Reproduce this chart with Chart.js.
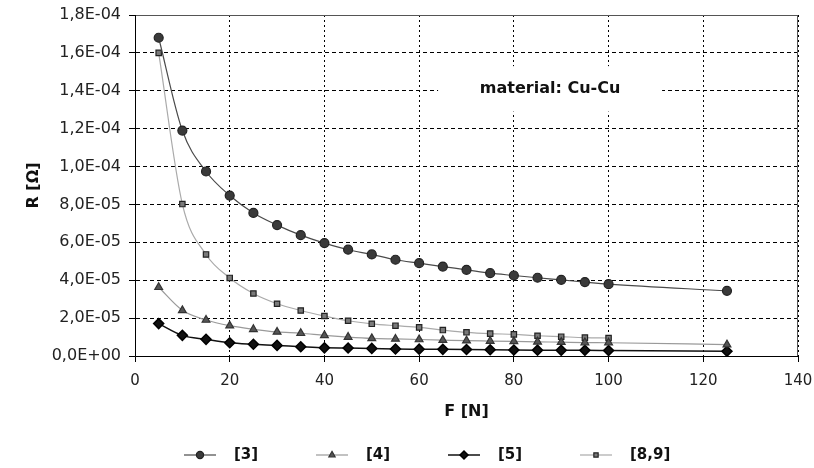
<!DOCTYPE html>
<html>
<head>
<meta charset="utf-8">
<script src="https://cdn.jsdelivr.net/npm/chart.js@4/dist/chart.umd.min.js"></script>
<style>
  html, body { margin: 0; padding: 0; background: #fff; }
  #wrap { width: 814px; height: 468px; }
</style>
</head>
<body>
<div id="wrap"><canvas id="chartId" width="814" height="468"></canvas></div>
<script>
// forces F [N]
const forces = [5, 10, 15, 20, 25, 30, 35, 40, 45, 50, 55, 60, 65, 70, 75, 80, 85, 90, 95, 100, 125];

// resistance R [Ohm]
const ref3 = [16.8e-5, 11.9e-5, 9.74e-5, 8.47e-5, 7.55e-5, 6.91e-5, 6.38e-5, 5.96e-5, 5.61e-5, 5.36e-5,
              5.08e-5, 4.90e-5, 4.72e-5, 4.55e-5, 4.37e-5, 4.25e-5, 4.13e-5, 4.02e-5, 3.90e-5, 3.79e-5, 3.44e-5];
const ref4 = [3.63e-5, 2.41e-5, 1.90e-5, 1.60e-5, 1.41e-5, 1.27e-5, 1.20e-5, 1.09e-5, 1.00e-5, 0.93e-5,
              0.90e-5, 0.87e-5, 0.84e-5, 0.81e-5, 0.79e-5, 0.77e-5, 0.75e-5, 0.73e-5, 0.71e-5, 0.70e-5, 0.60e-5];
const ref5 = [1.71e-5, 1.09e-5, 0.88e-5, 0.70e-5, 0.62e-5, 0.56e-5, 0.49e-5, 0.43e-5, 0.42e-5, 0.40e-5,
              0.37e-5, 0.36e-5, 0.35e-5, 0.34e-5, 0.33e-5, 0.32e-5, 0.31e-5, 0.30e-5, 0.30e-5, 0.29e-5, 0.25e-5];
const ref89 = [16.0e-5, 8.02e-5, 5.36e-5, 4.12e-5, 3.30e-5, 2.76e-5, 2.40e-5, 2.11e-5, 1.86e-5, 1.70e-5,
               1.60e-5, 1.51e-5, 1.37e-5, 1.25e-5, 1.18e-5, 1.14e-5, 1.07e-5, 1.02e-5, 0.97e-5, 0.95e-5];

const seriesNames = ['[3]', '[4]', '[5]', '[8,9]'];
const note = 'material: Cu-Cu';

const FONT = "'DejaVu Sans', 'Liberation Sans', Arial, sans-serif";

function pts(vals) {
    return vals.map((v, i) => ({ x: forces[i], y: v }));
}

// 1,8E-04 style labels
function sciLabel(v) {
    if (Math.abs(v) < 1e-12) return '0,0E+00';
    let e = Math.floor(Math.log10(Math.abs(v)) + 1e-9);
    let m = Math.round(v / Math.pow(10, e) * 10) / 10;
    if (m >= 10) { m /= 10; e++; }
    return m.toFixed(1).replace('.', ',') + 'E' + (e < 0 ? '-' : '+') + String(Math.abs(e)).padStart(2, '0');
}

const ctx = document.getElementById('chartId').getContext('2d');

const data = {
    datasets: [
        { label: seriesNames[0], data: pts(ref3), borderColor: '#4a4a4a', borderWidth: 1.2,
          pointStyle: 'circle', pointRadius: 4.5, backgroundColor: '#3a3a3a', pointBorderColor: '#222' },
        { label: seriesNames[1], data: pts(ref4), borderColor: '#9a9a9a', borderWidth: 1.2,
          pointStyle: 'triangle', pointRadius: 4.5, backgroundColor: '#555', pointBorderColor: '#333' },
        { label: seriesNames[2], data: pts(ref5), borderColor: '#111', borderWidth: 1.5,
          pointStyle: 'rectRot', pointRadius: 5, backgroundColor: '#111', pointBorderColor: '#000' },
        { label: seriesNames[3], data: pts(ref89), borderColor: '#aaaaaa', borderWidth: 1.2,
          pointStyle: 'rect', pointRadius: 3.8, backgroundColor: '#7a7a7a', pointBorderColor: '#222' }
    ]
};

// border round the plot, white note box, and the legend at the bottom
const extras = {
    id: 'extras',
    beforeDatasetsDraw(chart) {
        const c = chart.ctx, x = chart.scales.x, y = chart.scales.y;
        const x0 = x.getPixelForValue(64), x1 = x.getPixelForValue(111.3);
        const y0 = y.getPixelForValue(15.3e-5), y1 = y.getPixelForValue(12.9e-5);
        c.save();
        c.fillStyle = '#fff';
        c.fillRect(x0, y0, x1 - x0, y1 - y0);
        c.fillStyle = '#111';
        c.font = 'bold 16px ' + FONT;
        c.textAlign = 'center';
        c.textBaseline = 'middle';
        c.fillText(note, (x0 + x1) / 2, (y0 + y1) / 2);
        const a = chart.chartArea;
        c.strokeStyle = '#555';
        c.lineWidth = 1;
        c.setLineDash([]);
        c.strokeRect(a.left + 0.5, a.top + 0.5, a.right - a.left - 1, a.bottom - a.top);
        // solid axis lines
        c.strokeStyle = '#000';
        c.beginPath();
        c.moveTo(a.left + 0.5, a.top);
        c.lineTo(a.left + 0.5, a.bottom + 0.5);
        c.lineTo(a.right, a.bottom + 0.5);
        c.stroke();
        c.restore();
    },
    afterDraw(chart) {
        const c = chart.ctx;
        const ly = 455;
        c.save();
        chart.data.datasets.forEach((ds, i) => {
            const sx = 184 + i * 132;
            c.strokeStyle = ds.borderColor;
            c.lineWidth = ds.borderWidth;
            c.setLineDash([]);
            c.beginPath();
            c.moveTo(sx, ly);
            c.lineTo(sx + 32, ly);
            c.stroke();
            c.fillStyle = ds.backgroundColor;
            c.strokeStyle = ds.pointBorderColor;
            Chart.helpers.drawPoint(c, {
                pointStyle: ds.pointStyle, radius: ds.pointRadius * 0.8, borderWidth: 1, rotation: 0
            }, sx + 16, ly);
            c.fillStyle = '#111';
            c.font = 'bold 15px ' + FONT;
            c.textAlign = 'left';
            c.textBaseline = 'middle';
            c.fillText(ds.label, sx + 50, ly);
        });
        c.restore();
    }
};

const options = {
    responsive: false,
    animation: false,
    layout: { padding: { top: 15, right: 16, bottom: 0, left: 0 } },
    elements: { line: { cubicInterpolationMode: 'monotone', fill: false } },
    plugins: { legend: { display: false }, tooltip: { enabled: false } },
    scales: {
        x: {
            type: 'linear', min: 0, max: 140,
            afterFit: (s) => { s.height = 112; s.paddingRight = 0; s.paddingLeft = 0; },
            ticks: { stepSize: 20, color: '#222', padding: 10, font: { family: FONT, size: 15 } },
            grid: { color: '#000', lineWidth: 1, tickLength: 6, tickColor: '#000', tickBorderDash: [] },
            border: { display: true, color: '#000', width: 1, dash: [2, 3] },
            title: { display: true, text: 'F [N]', color: '#111',
                     font: { family: FONT, size: 16, weight: 'bold' }, padding: { top: 0, bottom: 47 } }
        },
        y: {
            min: 0, max: 1.8e-4,
            afterFit: (s) => { s.width = 135; s.paddingTop = 0; s.paddingBottom = 0; },
            ticks: { stepSize: 2e-5, color: '#222', padding: 8, font: { family: FONT, size: 16 },
                     callback: (v) => sciLabel(v) },
            grid: { color: '#000', lineWidth: 1, tickLength: 6, tickColor: '#000', tickBorderDash: [] },
            border: { display: true, color: '#000', width: 1, dash: [4, 3] },
            title: { display: true, text: 'R [Ω]', color: '#111',
                     font: { family: FONT, size: 16, weight: 'bold' }, padding: { top: 24, bottom: 0 } }
        }
    }
};

const chart = new Chart(ctx, {
    type: 'line',
    data: data,
    options: options,
    plugins: [extras]
});
</script>
</body>
</html>
